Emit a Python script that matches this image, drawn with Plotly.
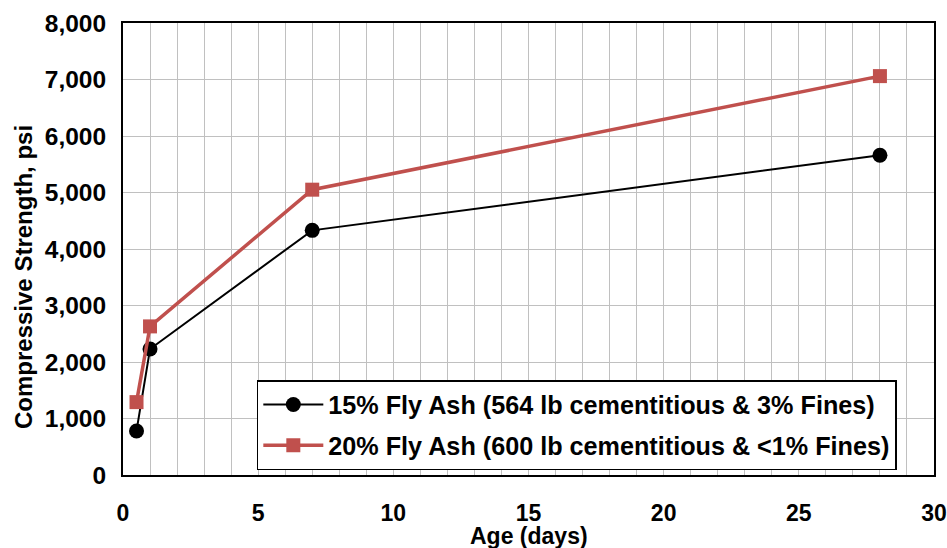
import plotly.graph_objects as go

age_days = [0.5, 1, 7, 28]
fa15_psi = [780, 2230, 4330, 5660]
fa20_psi = [1290, 2630, 5050, 7060]
name15 = "15% Fly Ash (564 lb cementitious & 3% Fines)"
name20 = "20% Fly Ash (600 lb cementitious & <1% Fines)"
x_title = "Age (days)"
y_title = "Compressive Strength, psi"

FONT = "Liberation Sans, Arial, sans-serif"

fig = go.Figure()
fig.add_trace(go.Scatter(x=age_days, y=fa15_psi, name="<b>" + name15 + "</b>", mode="lines+markers",
                         legendgroup="a",
                         line=dict(color="#000000", width=2),
                         marker=dict(symbol="circle", size=15, color="#000000")))
fig.add_trace(go.Scatter(x=age_days, y=fa20_psi, name="<b>" + name20.replace("<", "&lt;") + "</b>", mode="lines+markers",
                         legendgroup="b",
                         line=dict(color="#C0504D", width=3.5),
                         marker=dict(symbol="square", size=14, color="#C0504D")))

fig.update_layout(
    width=947, height=548,
    margin=dict(l=123, r=13, t=23, b=73),
    paper_bgcolor="white", plot_bgcolor="white",
    font=dict(family=FONT, color="black"),
    showlegend=True,
    legend=dict(x=0.165, y=0.21, xanchor="left", yanchor="top",
                bgcolor="white", bordercolor="black", borderwidth=1.5,
                font=dict(family=FONT, size=25.2, color="black"),
                itemwidth=60, tracegroupgap=5),
    annotations=[
        dict(text="<b>" + x_title + "</b>", xref="paper", yref="paper", x=0.5, y=-0.135,
             xanchor="center", yanchor="middle", showarrow=False,
             font=dict(family=FONT, size=23, color="black")),
        dict(text="<b>" + y_title + "</b>", xref="paper", yref="paper", x=0, y=0.438,
             xshift=-100, xanchor="center", yanchor="middle", showarrow=False, textangle=-90,
             font=dict(family=FONT, size=24, color="black")),
    ],
)
fig.update_xaxes(range=[0, 30], dtick=5, tick0=0, automargin=False,
                 showgrid=True, gridcolor="#C0C0C0", gridwidth=1,
                 minor=dict(dtick=1, showgrid=True, gridcolor="#C0C0C0", gridwidth=1),
                 showline=True, linecolor="black", linewidth=2, mirror=True,
                 ticks="", zeroline=False, ticklabelstandoff=16, ticklabeloverflow="allow",
                 tickprefix="<b>", ticksuffix="</b>",
                 tickfont=dict(family=FONT, size=23, color="black"))
fig.update_yaxes(range=[0, 8000], dtick=1000, tickformat=",d", automargin=False,
                 showgrid=True, gridcolor="#C0C0C0", gridwidth=1,
                 showline=True, linecolor="black", linewidth=2, mirror=True,
                 ticks="outside", ticklen=10, tickcolor="rgba(0,0,0,0)",
                 zeroline=False, ticklabeloverflow="allow",
                 tickprefix="<b>", ticksuffix="</b>",
                 tickfont=dict(family=FONT, size=24.5, color="black"))

fig.write_html("out.html", config={"displayModeBar": False},
               post_script="document.body.style.margin='0';document.documentElement.style.overflow='hidden';")
